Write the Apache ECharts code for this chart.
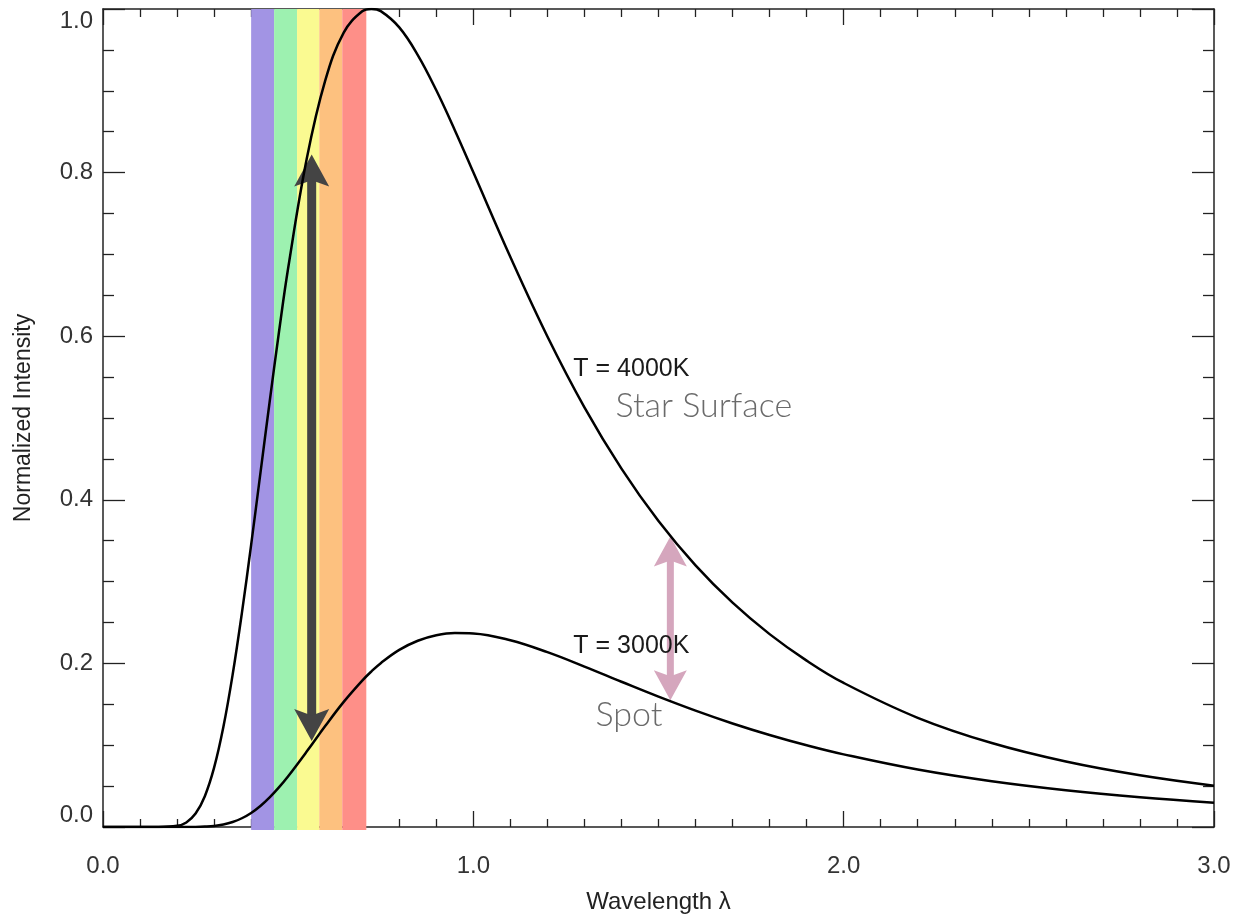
<!DOCTYPE html>
<html>
<head>
<meta charset="utf-8">
<script src="https://cdn.jsdelivr.net/npm/echarts@6/dist/echarts.min.js"></script>
<style>
html,body{margin:0;padding:0;background:#fff;}
#chart{width:1245px;height:919px;}
</style>
</head>
<body>
<div id="chart"></div>
<script>
// ---- data ----
const wavelengths = [0, 0.05, 0.1, 0.15, 0.2, 0.225, 0.25, 0.275, 0.3, 0.325, 0.35, 0.375, 0.4, 0.425, 0.45, 0.475, 0.5, 0.55, 0.6, 0.65, 0.7, 0.725, 0.75, 0.8, 0.85, 0.9, 0.95, 1.0, 1.1, 1.2, 1.3, 1.4, 1.5, 1.6, 1.7, 1.8, 1.9, 2.0, 2.2, 2.4, 2.6, 2.8, 3.0];
const starIntensity = [0, 0, 0, 0, 0.0014, 0.0056, 0.0164, 0.0377, 0.0725, 0.1222, 0.1861, 0.2615, 0.3449, 0.4324, 0.5199, 0.6045, 0.6833, 0.8165, 0.9124, 0.9711, 0.9972, 1.0, 0.9974, 0.9775, 0.9437, 0.9006, 0.8519, 0.8004, 0.6968, 0.5997, 0.5131, 0.4381, 0.3740, 0.3198, 0.2742, 0.2358, 0.2034, 0.1761, 0.1335, 0.1026, 0.0800, 0.0632, 0.0505];
const spotIntensity = [0, 0, 0, 0, 0, 0, 0.0001, 0.0005, 0.0013, 0.0031, 0.0061, 0.0107, 0.0172, 0.0257, 0.0362, 0.0484, 0.0621, 0.0922, 0.1234, 0.1530, 0.1790, 0.1903, 0.2003, 0.2165, 0.2277, 0.2344, 0.2372, 0.2367, 0.2283, 0.2137, 0.1961, 0.1776, 0.1594, 0.1423, 0.1266, 0.1125, 0.0999, 0.0888, 0.0702, 0.0559, 0.0449, 0.0363, 0.0296];

const bandStart = [0.400, 0.462, 0.524, 0.584, 0.646];
const bandEnd   = [0.462, 0.524, 0.584, 0.646, 0.711];
const bandColors = ['#a294e4', '#9df1b0', '#fafa91', '#fdc17f', '#fe8f88'];

const arrowX    = [0.5635, 1.532];
const arrowLow  = [0.105, 0.155];
const arrowHigh = [0.822, 0.355];

const noteText = ['T = 4000K', 'Star Surface', 'T = 3000K', 'Spot'];
const noteX    = [1.270, 1.384, 1.270, 1.330];
const noteY    = [0.560, 0.515, 0.221, 0.137];

const xTicks = [0, 1, 2, 3];
const yTicks = [0, 0.2, 0.4, 0.6, 0.8, 1.0];

// ---- styles ----
const arrowStyles = [
  {color: '#444444', shaft: 9, headW: 35, headL: 32},
  {color: '#d5a6bd', shaft: 7, headW: 33, headL: 30}
];
const noteStyles = [
  {color: '#1a1a1a', size: 25, family: '"Liberation Sans", Arial, sans-serif', weight: 'normal'},
  {color: '#6a6a6a', size: 34, family: 'Lato, "Open Sans", sans-serif', weight: 300},
  {color: '#1a1a1a', size: 25, family: '"Liberation Sans", Arial, sans-serif', weight: 'normal'},
  {color: '#6a6a6a', size: 34, family: 'Lato, "Open Sans", sans-serif', weight: 300}
];

const chart = echarts.init(document.getElementById('chart'), null, {renderer: 'canvas'});
const axisColor = '#222';
const labelFont = '"Liberation Sans", Arial, Helvetica, sans-serif';

function xAxisDef(pos, showLabels) {
  return {
    type: 'value', position: pos, min: xTicks[0], max: xTicks[xTicks.length - 1], interval: 1,
    axisLine: {show: true, onZero: false, lineStyle: {color: axisColor, width: 1.5}},
    axisTick: {show: true, inside: true, length: 16, lineStyle: {color: axisColor, width: 1.3}},
    minorTick: {show: true, splitNumber: 10, length: 8, lineStyle: {color: axisColor, width: 1.3}},
    splitLine: {show: false}, minorSplitLine: {show: false},
    axisLabel: {show: showLabels, formatter: v => v.toFixed(1), fontSize: 24, color: '#333', fontFamily: labelFont, margin: 27},
    name: showLabels ? 'Wavelength λ' : '', nameLocation: 'middle', nameGap: 63,
    nameTextStyle: {fontSize: 24, color: '#222', fontFamily: labelFont}
  };
}
function yAxisDef(pos, showLabels) {
  return {
    type: 'value', position: pos, min: yTicks[0], max: yTicks[yTicks.length - 1], interval: 0.2,
    axisLine: {show: true, onZero: false, lineStyle: {color: axisColor, width: 1.5}},
    axisTick: {show: true, inside: true, length: 22, lineStyle: {color: axisColor, width: 1.3}},
    minorTick: {show: true, splitNumber: 4, length: 11, lineStyle: {color: axisColor, width: 1.3}},
    splitLine: {show: false}, minorSplitLine: {show: false},
    axisLabel: {show: showLabels, formatter: v => v.toFixed(1), fontSize: 24, color: '#333', fontFamily: labelFont, margin: 10,
      verticalAlignMaxLabel: 'top', verticalAlignMinLabel: 'bottom'},
    name: showLabels ? 'Normalized Intensity' : '', nameLocation: 'middle', nameGap: 68, nameRotate: 90,
    nameTextStyle: {fontSize: 23, color: '#222', fontFamily: labelFont}
  };
}

const option = {
  backgroundColor: '#ffffff',
  animation: false,
  grid: {left: 103, right: 31, top: 9, bottom: 90, containLabel: false},
  xAxis: [xAxisDef('bottom', true), xAxisDef('top', false)],
  yAxis: [yAxisDef('left', true), yAxisDef('right', false)],
  series: [
    {
      type: 'custom', name: 'bands', z: 1, silent: true,
      data: bandStart.map((s, i) => [s, bandEnd[i]]),
      encode: {x: [0, 1]},
      renderItem: function (params, api) {
        const p0 = api.coord([api.value(0), yTicks[yTicks.length - 1]]);
        const p1 = api.coord([api.value(1), yTicks[0]]);
        return {
          type: 'rect',
          shape: {x: p0[0], y: p0[1], width: p1[0] - p0[0], height: p1[1] - p0[1] + 3},
          style: {fill: bandColors[params.dataIndex]}
        };
      }
    },
    {
      type: 'custom', name: 'arrows', z: 2, silent: true,
      data: arrowX.map((x, i) => [x, arrowLow[i], arrowHigh[i]]),
      encode: {x: 0, y: [1, 2]},
      renderItem: function (params, api) {
        const st = arrowStyles[params.dataIndex];
        const lo = api.coord([api.value(0), api.value(1)]);
        const hi = api.coord([api.value(0), api.value(2)]);
        const cx = lo[0];
        const hw = st.headW / 2, hl = st.headL, notch = hl * 0.8;
        return {
          type: 'group',
          children: [
            {type: 'rect', shape: {x: cx - st.shaft / 2, y: hi[1] + notch - 1, width: st.shaft, height: (lo[1] - notch) - (hi[1] + notch) + 2}, style: {fill: st.color}},
            {type: 'polygon', shape: {points: [[cx, hi[1]], [cx + hw, hi[1] + hl], [cx, hi[1] + notch], [cx - hw, hi[1] + hl]]}, style: {fill: st.color}},
            {type: 'polygon', shape: {points: [[cx, lo[1]], [cx + hw, lo[1] - hl], [cx, lo[1] - notch], [cx - hw, lo[1] - hl]]}, style: {fill: st.color}}
          ]
        };
      }
    },
    {
      type: 'line', name: 'T = 4000K', z: 3, symbol: 'none', smooth: 0.4,
      data: wavelengths.map((x, i) => [x, starIntensity[i]]),
      lineStyle: {color: '#000', width: 2.5}
    },
    {
      type: 'line', name: 'T = 3000K', z: 3, symbol: 'none', smooth: 0.4,
      data: wavelengths.map((x, i) => [x, spotIntensity[i]]),
      lineStyle: {color: '#000', width: 2.5}
    },
    {
      type: 'custom', name: 'notes', z: 4, silent: true,
      data: noteX.map((x, i) => [x, noteY[i]]),
      encode: {x: 0, y: 1},
      renderItem: function (params, api) {
        const st = noteStyles[params.dataIndex];
        const p = api.coord([api.value(0), api.value(1)]);
        return {
          type: 'text', x: p[0], y: p[1],
          style: {text: noteText[params.dataIndex], fill: st.color, fontSize: st.size, fontFamily: st.family, fontWeight: st.weight, align: 'left', verticalAlign: 'middle'}
        };
      }
    }
  ]
};
chart.setOption(option);
</script>
</body>
</html>
